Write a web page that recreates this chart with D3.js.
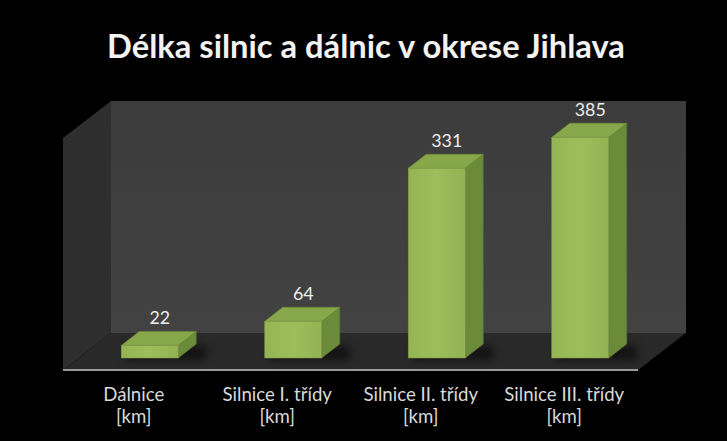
<html>
<head>
  <style>
    body { margin: 0; background: #000; }
    text { font-family: Lato, "Open Sans", sans-serif; }
    .title { fill: #f2f2f2; font-weight: bold; text-anchor: middle; }
    .cat { fill: #d9d9d9; font-size: 15.5px; text-anchor: middle; }
    .val { fill: #eeeeee; font-size: 16px; text-anchor: middle; }
  </style>
</head>
<body>
<svg class="chart"></svg>
<script src="https://cdn.jsdelivr.net/npm/d3@7"></script>
<script>
  var categories = ["Dálnice", "Silnice I. třídy", "Silnice II. třídy", "Silnice III. třídy"];
  var unitLabel = "[km]";
  var values = [22, 64, 331, 385];
  var yMax = 450;
  var title = "Délka silnic a dálnic v okrese Jihlava";

  var W = 727, H = 441;
  var svg = d3.select(".chart").attr("width", W).attr("height", H);

  svg.append("rect").attr("width", W).attr("height", H).attr("fill", "#000");

  // frame: front plane + depth offset
  var left = 63, right = 638, floorFront = 370, floorBack = 333, wallTop = 101;
  var dx = 48, dy = floorBack - floorFront;

  var defs = svg.append("defs");
  var blur = defs.append("filter").attr("id", "shadow")
    .attr("x", "-30%").attr("y", "-100%").attr("width", "160%").attr("height", "300%");
  blur.append("feGaussianBlur").attr("stdDeviation", 4);

  var wallGrad = defs.append("linearGradient").attr("id", "wall")
    .attr("x1", 0).attr("y1", 0).attr("x2", 0).attr("y2", 1);
  wallGrad.append("stop").attr("offset", 0).attr("stop-color", "#3c3c3c");
  wallGrad.append("stop").attr("offset", 1).attr("stop-color", "#424242");

  var frontGrad = defs.append("linearGradient").attr("id", "front")
    .attr("x1", 0).attr("y1", 0).attr("x2", 1).attr("y2", 0);
  frontGrad.append("stop").attr("offset", 0).attr("stop-color", "#95b554");
  frontGrad.append("stop").attr("offset", 0.5).attr("stop-color", "#9ebe5c");
  frontGrad.append("stop").attr("offset", 1).attr("stop-color", "#93b353");

  function poly(pts) { return pts.map(function(p) { return p.join(","); }).join(" "); }

  // fit a text element's font size to a target width
  function fit(sel, size, width) {
    sel.style("font-size", size + "px");
    var w = sel.node().getComputedTextLength();
    return size * width / w;
  }

  // back wall
  svg.append("polygon")
    .attr("points", poly([[left + dx, wallTop], [right + dx, wallTop], [right + dx, floorBack], [left + dx, floorBack]]))
    .attr("fill", "url(#wall)");
  // left wall
  svg.append("polygon")
    .attr("points", poly([[left, wallTop - dy], [left + dx, wallTop], [left + dx, floorBack], [left, floorFront]]))
    .attr("fill", "#2e2e2e");
  // floor
  svg.append("polygon")
    .attr("points", poly([[left, floorFront], [right, floorFront], [right + dx, floorBack], [left + dx, floorBack]]))
    .attr("fill", "#292929");
  svg.append("line")
    .attr("x1", left).attr("x2", right).attr("y1", floorFront).attr("y2", floorFront)
    .attr("stroke", "#9a9a9a").attr("stroke-width", 2);

  // scales
  var x = d3.scalePoint().domain(categories).range([78, 652]).padding(0.5);
  var barBase = 358;
  var y = d3.scaleLinear().domain([0, yMax]).range([barBase, 100]);
  var bw = 57, bdx = 18, bdy = -14;

  var data = categories.map(function(c, i) { return { cat: c, value: values[i] }; });

  // shadows
  svg.append("g").selectAll("rect").data(data).enter().append("rect")
    .attr("x", function(d) { return x(d.cat) - bw / 2 + 4; })
    .attr("y", barBase - 12)
    .attr("width", bw + bdx + 6)
    .attr("height", 14)
    .attr("fill", "#000").attr("opacity", 0.55)
    .attr("filter", "url(#shadow)");

  var bars = svg.append("g").selectAll("g").data(data).enter().append("g");

  bars.append("polygon") // side
    .attr("points", function(d) {
      var x1 = x(d.cat) + bw / 2, t = y(d.value);
      return poly([[x1, t], [x1 + bdx, t + bdy], [x1 + bdx, barBase + bdy], [x1, barBase]]);
    })
    .attr("fill", "#6b8a3a").attr("stroke", "#5a7530").attr("stroke-width", 0.6);

  bars.append("polygon") // top
    .attr("points", function(d) {
      var x0 = x(d.cat) - bw / 2, t = y(d.value);
      return poly([[x0, t], [x0 + bw, t], [x0 + bw + bdx, t + bdy], [x0 + bdx, t + bdy]]);
    })
    .attr("fill", "#87a74b").attr("stroke", "#6f8c3c").attr("stroke-width", 0.6);

  bars.append("rect") // front
    .attr("x", function(d) { return x(d.cat) - bw / 2; })
    .attr("y", function(d) { return y(d.value); })
    .attr("width", bw)
    .attr("height", function(d) { return barBase - y(d.value); })
    .attr("fill", "url(#front)").attr("stroke", "#7e9c46").attr("stroke-width", 0.6);

  // value labels
  var vals = svg.append("g").selectAll("text").data(data).enter().append("text")
    .attr("class", "val")
    .attr("x", function(d) { return x(d.cat) + 10; })
    .attr("y", function(d) { return y(d.value) + bdy - 7; })
    .text(function(d) { return d.value; });
  var valSize = fit(vals.filter(function(d, i) { return i === 3; }), 16, 31);
  vals.style("font-size", valSize + "px");

  // category labels
  var cats = svg.append("g").selectAll("text").data(data).enter().append("text")
    .attr("class", "cat")
    .attr("x", function(d) { return x(d.cat) - 16; })
    .attr("y", 401);
  cats.append("tspan").text(function(d) { return d.cat; });
  cats.append("tspan")
    .attr("x", function(d) { return x(d.cat) - 16; })
    .attr("dy", 22)
    .text(unitLabel);
  var probe = svg.append("text").attr("class", "cat").text(categories[3]);
  var catSize = fit(probe, 15.5, 120);
  probe.remove();
  cats.style("font-size", catSize + "px");

  // title, fitted to width
  var t = svg.append("text").attr("class", "title")
    .attr("x", 366).attr("y", 58)
    .text(title);
  t.style("font-size", fit(t, 30, 518) + "px");
</script>
</body>
</html>
